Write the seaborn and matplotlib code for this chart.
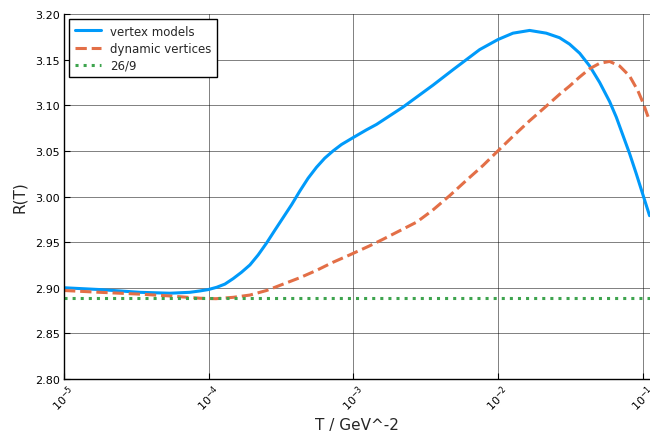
import numpy as np
import pandas as pd
import matplotlib
matplotlib.use("Agg")
import matplotlib.pyplot as plt
import matplotlib.ticker as mticker
import seaborn as sns

# ---- data ----
blue_log_t = [-5.000, -4.751, -4.475, -4.268, -4.130, -4.061, -4.003, -3.945, -3.888, -3.831,
              -3.773, -3.715, -3.658, -3.600, -3.543, -3.485, -3.427, -3.370, -3.313, -3.255,
              -3.198, -3.140, -3.082, -2.997, -2.910, -2.840, -2.657, -2.450, -2.311, -2.219,
              -2.127, -2.001, -1.897, -1.782, -1.667, -1.575, -1.506, -1.436, -1.367, -1.298,
              -1.229, -1.183, -1.137, -1.091, -1.045, -0.999, -0.953]
blue_r = [2.900, 2.898, 2.895, 2.894, 2.895, 2.8965, 2.898, 2.9005, 2.904, 2.910,
          2.917, 2.925, 2.936, 2.949, 2.963, 2.977, 2.991, 3.006, 3.020, 3.032,
          3.042, 3.050, 3.057, 3.065, 3.073, 3.079, 3.098, 3.122, 3.139, 3.150,
          3.161, 3.172, 3.179, 3.182, 3.179, 3.174, 3.167, 3.157, 3.143, 3.125,
          3.104, 3.087, 3.067, 3.047, 3.025, 3.002, 2.979]

orange_log_t = [-5.000, -4.751, -4.475, -4.268, -4.061, -3.950, -3.831, -3.715, -3.600, -3.485,
                -3.370, -3.255, -3.140, -3.025, -2.887, -2.797, -2.562, -2.452, -2.334, -2.217,
                -2.104, -2.001, -1.897, -1.782, -1.667, -1.575, -1.506, -1.436, -1.367, -1.298,
                -1.229, -1.160, -1.091, -1.034, -0.999, -0.958]
orange_r = [2.897, 2.895, 2.893, 2.891, 2.8885, 2.888, 2.8895, 2.892, 2.897, 2.904,
            2.911, 2.919, 2.928, 2.936, 2.946, 2.953, 2.972, 2.985, 3.001, 3.018,
            3.034, 3.050, 3.066, 3.083, 3.099, 3.112, 3.121, 3.131, 3.140, 3.146,
            3.148, 3.143, 3.132, 3.116, 3.103, 3.085]

const_log_t = [-5.0, -0.95]
const_r = [26 / 9, 26 / 9]

labels = ["vertex models", "dynamic vertices", "26/9"]
colors = ["#009AFA", "#E36F47", "#3EA44E"]
styles = ["-", "--", ":"]
x_ticks = [1e-5, 1e-4, 1e-3, 1e-2, 1e-1]
x_tick_labels = [r"$10^{-5}$", r"$10^{-4}$", r"$10^{-3}$", r"$10^{-2}$", r"$10^{-1}$"]
y_ticks = [2.80, 2.85, 2.90, 2.95, 3.00, 3.05, 3.10, 3.15, 3.20]

# ---- build frames ----
frames = []
for lab, lt, r in zip(labels, [blue_log_t, orange_log_t, const_log_t], [blue_r, orange_r, const_r]):
    frames.append(pd.DataFrame({"T": np.power(10.0, lt), "R": r, "series": lab}))
df = pd.concat(frames, ignore_index=True)

sns.set_theme(style="white")
plt.rcParams["font.family"] = ["DejaVu Sans"]

fig = plt.figure(figsize=(6.5, 4.39), dpi=100)
ax = fig.add_axes([64 / 650, (439 - 380) / 439, (650 - 64) / 650, 365 / 439])

for lab, col, ls in zip(labels, colors, styles):
    sub = df[df["series"] == lab]
    sns.lineplot(data=sub, x="T", y="R", ax=ax, color=col, linestyle=ls,
                 linewidth=2.2, label=lab, sort=False, estimator=None)
for ln in ax.get_lines():
    ln.set_solid_joinstyle("round")
    ln.set_dash_joinstyle("round")

ax.set_xscale("log")
ax.set_xlim(1e-5, 10 ** -0.95)
ax.set_ylim(2.80, 3.20)
ax.set_xticks(x_ticks)
ax.set_xticklabels(x_tick_labels, rotation=45, ha="center", va="top")
ax.xaxis.set_minor_locator(mticker.NullLocator())
ax.set_yticks(y_ticks)
ax.set_yticklabels([f"{v:.2f}" for v in y_ticks])

ax.grid(True, color="black", alpha=0.5, linewidth=0.7)
ax.set_axisbelow(True)
for s in ["top", "right"]:
    ax.spines[s].set_visible(False)
for s in ["left", "bottom"]:
    ax.spines[s].set_color("black")
    ax.spines[s].set_linewidth(1.0)

ax.tick_params(axis="both", which="major", direction="in", length=4, width=0.8,
               colors="black", labelsize=8, pad=3, left=True, bottom=True)
ax.tick_params(axis="x", pad=2)

ax.set_xlabel("T / GeV^-2", fontsize=11, labelpad=3)
ax.set_ylabel("R(T)", fontsize=11, labelpad=6)

leg = ax.legend(loc="upper left", frameon=True, fancybox=False, fontsize=8.5,
                edgecolor="black", framealpha=1.0, handlelength=2.2,
                borderaxespad=0.45, borderpad=0.45, labelspacing=0.35)
leg.get_frame().set_linewidth(1.0)

fig.savefig("out.png", dpi=100)
